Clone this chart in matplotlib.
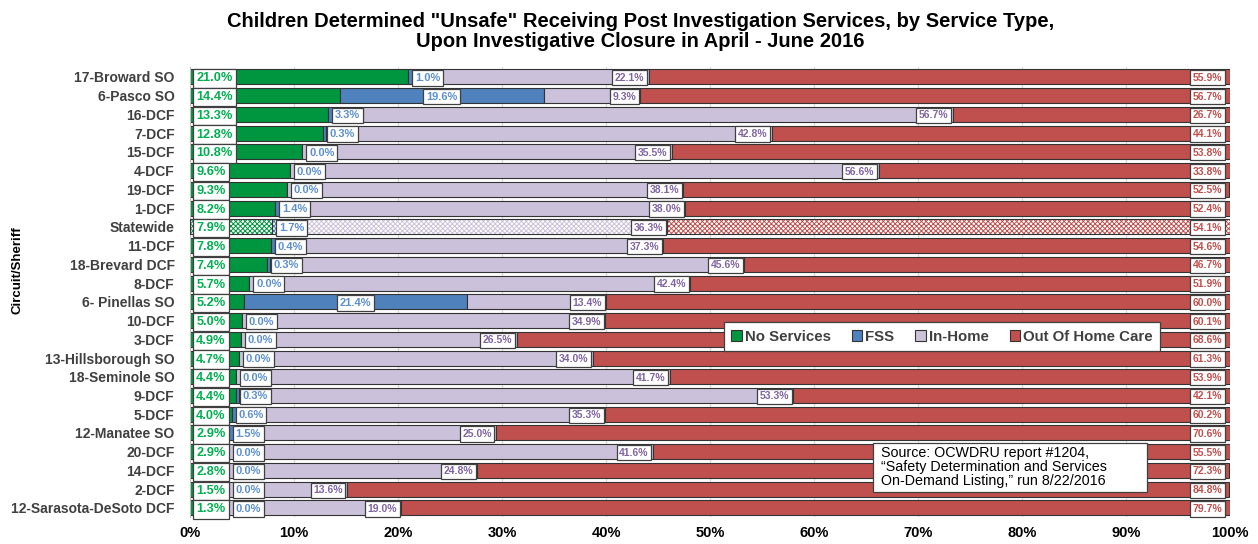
import numpy as np
import matplotlib
matplotlib.use("Agg")
import matplotlib.pyplot as plt
from matplotlib.patches import Patch, Rectangle

# values (percent of children, by service type)
names = ['17-Broward SO', '6-Pasco SO', '16-DCF', '7-DCF', '15-DCF', '4-DCF', '19-DCF',
         '1-DCF', 'Statewide', '11-DCF', '18-Brevard DCF', '8-DCF', '6- Pinellas SO',
         '10-DCF', '3-DCF', '13-Hillsborough SO', '18-Seminole SO', '9-DCF', '5-DCF',
         '12-Manatee SO', '20-DCF', '14-DCF', '2-DCF', '12-Sarasota-DeSoto DCF']
no_services = [21.0, 14.4, 13.3, 12.8, 10.8, 9.6, 9.3, 8.2, 7.9, 7.8, 7.4, 5.7, 5.2,
               5.0, 4.9, 4.7, 4.4, 4.4, 4.0, 2.9, 2.9, 2.8, 1.5, 1.3]
fss = [1.0, 19.6, 3.3, 0.3, 0.0, 0.0, 0.0, 1.4, 1.7, 0.4, 0.3, 0.0, 21.4,
       0.0, 0.0, 0.0, 0.0, 0.3, 0.6, 1.5, 0.0, 0.0, 0.0, 0.0]
in_home = [22.1, 9.3, 56.7, 42.8, 35.5, 56.6, 38.1, 38.0, 36.3, 37.3, 45.6, 42.4, 13.4,
           34.9, 26.5, 34.0, 41.7, 53.3, 35.3, 25.0, 41.6, 24.8, 13.6, 19.0]
out_home = [55.9, 56.7, 26.7, 44.1, 53.8, 33.8, 52.5, 52.4, 54.1, 54.6, 46.7, 51.9, 60.0,
            60.1, 68.6, 61.3, 53.9, 42.1, 60.2, 70.6, 55.5, 72.3, 84.8, 79.7]
series_names = ['No Services', 'FSS', 'In-Home', 'Out Of Home Care']

GREEN = '#00963F'
BLUE = '#4F81BD'
LAV = '#CCC1DA'
RED = '#C0504D'
colors = [GREEN, BLUE, LAV, RED]
txt_colors = ['#00B050', '#5B8FD0', '#8064A2', '#C0504D']
EDGE = '#333333'
W, H = 1258.0, 544.0

plt.rcParams['font.family'] = ['Liberation Sans', 'DejaVu Sans']
plt.rcParams['hatch.linewidth'] = 0.7

fig = plt.figure(figsize=(12.58, 5.44), dpi=100)
ax = fig.add_axes([0.151, 0.049, 0.827, 0.827])

n = len(names)
y = np.arange(n)
vals = [np.array(no_services), np.array(fss), np.array(in_home), np.array(out_home)]
left = np.zeros(n)
state = names.index('Statewide')
for k, v in enumerate(vals):
    for i in range(n):
        if i == state:
            ax.barh(y[i], v[i], left=left[i], height=0.8, color='white',
                    edgecolor=colors[k], hatch='xxxxxxx', linewidth=0, zorder=2)
            ax.barh(y[i], v[i], left=left[i], height=0.8, fill=False,
                    edgecolor=EDGE, linewidth=0.8, zorder=3)
        else:
            ax.barh(y[i], v[i], left=left[i], height=0.8, color=colors[k],
                    edgecolor=EDGE, linewidth=0.8, zorder=2)
    left = left + v

def box(ec='#404040'):
    return dict(boxstyle='square,pad=0.25', facecolor='white', edgecolor=ec, linewidth=0.9)

for i in range(n):
    g, f, h, o = no_services[i], fss[i], in_home[i], out_home[i]
    ax.text(0.6, y[i], '%.1f%%' % g, ha='left', va='center_baseline', fontsize=9.2,
            fontweight='bold', color=txt_colors[0], bbox=box(), zorder=5)
    if f > 5:
        ax.text(g + f / 2, y[i], '%.1f%%' % f, ha='center', va='center_baseline', fontsize=8,
                fontweight='bold', color=txt_colors[1], bbox=box(), zorder=5)
    else:
        ax.text(max(g + 0.35, 4.1) + 0.3, y[i], '%.1f%%' % f, ha='left', va='center_baseline',
                fontsize=8, fontweight='bold', color=txt_colors[1], bbox=box(), zorder=5)
    ax.text(g + f + h - 0.4, y[i], '%.1f%%' % h, ha='right', va='center_baseline', fontsize=7.5,
            fontweight='bold', color=txt_colors[2], bbox=box(), zorder=5,
            family=['Liberation Sans Narrow', 'Liberation Sans'])
    ax.text(99.2, y[i], '%.1f%%' % o, ha='right', va='center_baseline', fontsize=7.5,
            fontweight='bold', color=txt_colors[3], bbox=box(), zorder=5,
            family=['Liberation Sans Narrow', 'Liberation Sans'])

ax.set_xlim(0, 100)
ax.set_ylim(n - 0.5, -0.5)
ax.set_xticks(np.arange(0, 101, 10))
ax.set_xticklabels(['%d%%' % t for t in range(0, 101, 10)], fontsize=10.5, fontweight='bold')
ax.set_yticks(y)
ax.set_yticklabels(names, fontsize=10, fontweight='bold', color='#404040')
ax.tick_params(axis='y', length=0, pad=11)
ax.tick_params(axis='x', length=0, pad=6)
ax.grid(axis='x', color='#D9D9D9', linewidth=0.8, zorder=0)
ax.set_axisbelow(True)
for s in ['top', 'right', 'bottom']:
    ax.spines[s].set_visible(False)
ax.spines['left'].set_color('#BFBFBF')

handles = [Patch(facecolor=c, edgecolor=EDGE, linewidth=0.8) for c in colors]
leg = ax.legend(handles, series_names, loc='center', bbox_to_anchor=(0.723, 0.401), ncol=4,
                frameon=True, fancybox=False, framealpha=1, handlelength=0.7,
                handleheight=0.7, handletextpad=0.2, columnspacing=1.4,
                borderpad=0.5, prop={'weight': 'bold', 'size': 10.8})
leg.get_frame().set_edgecolor('#404040')
leg.get_frame().set_linewidth(0.9)
for t in leg.get_texts():
    t.set_color('#404040')
leg.set_zorder(10)

# source note box
fig.patches.append(Rectangle((873 / W, 1 - 492 / H), 274 / W, 49 / H, transform=fig.transFigure,
                             facecolor='white', edgecolor='#404040', linewidth=0.9, zorder=10))
fig.text(881 / W, 1 - 446 / H, 'Source: OCWDRU report #1204,\n\u201cSafety Determination and Services\n'
         'On-Demand Listing,\u201d run 8/22/2016', ha='left', va='top', fontsize=10.3,
         linespacing=1.0, color='black', zorder=11)

fig.text(0.509, 0.978, 'Children Determined "Unsafe" Receiving Post Investigation Services, by Service Type,\n'
         'Upon Investigative Closure in April - June 2016', ha='center', va='top',
         fontsize=14.5, fontweight='bold', linespacing=1.1)
fig.text(0.014, 0.504, 'Circuit/Sheriff', rotation=90, ha='center', va='center',
         fontsize=9.5, fontweight='bold')

fig.savefig('out.png', dpi=100)
